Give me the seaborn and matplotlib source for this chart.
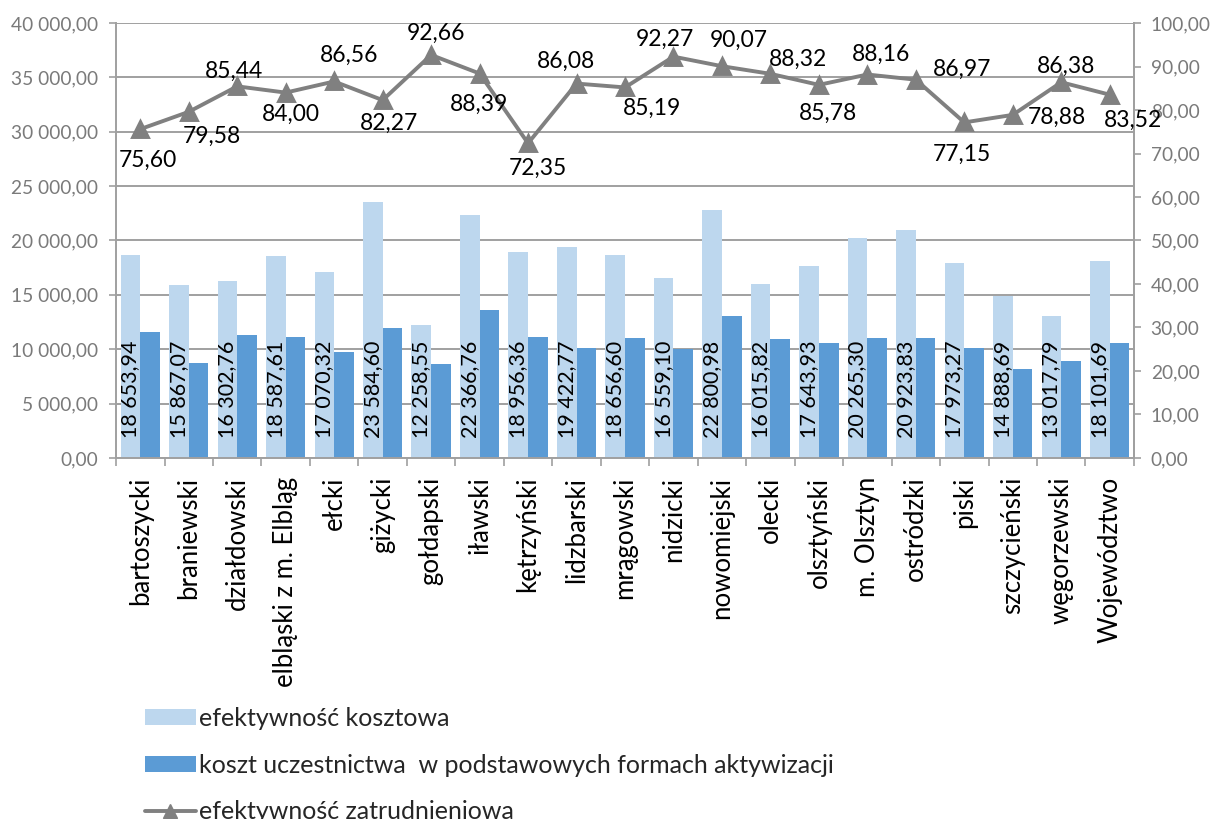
import numpy as np
import pandas as pd
import matplotlib
matplotlib.use('Agg')
import matplotlib.pyplot as plt
from matplotlib.patches import Patch
from matplotlib.lines import Line2D
from matplotlib.ticker import FuncFormatter, MultipleLocator
import seaborn as sns

# Data
powiaty = ['bartoszycki', 'braniewski', 'działdowski', 'elbląski z m. Elbląg', 'ełcki',
           'giżycki', 'gołdapski', 'iławski', 'kętrzyński', 'lidzbarski', 'mrągowski',
           'nidzicki', 'nowomiejski', 'olecki', 'olsztyński', 'm. Olsztyn', 'ostródzki',
           'piski', 'szczycieński', 'węgorzewski', 'Województwo']
efekt_kosztowa = [18653.94, 15867.07, 16302.76, 18587.61, 17070.32, 23584.60, 12258.55,
                  22366.76, 18956.36, 19422.77, 18656.60, 16559.10, 22800.98, 16015.82,
                  17643.93, 20265.30, 20923.83, 17973.27, 14888.69, 13017.79, 18101.69]
# not labelled in the chart
koszt_uczestnictwa = [11600, 8750, 11270, 11150, 9730, 11940, 8660, 13600, 11150, 10070,
                      10990, 9980, 13080, 10930, 10530, 10990, 11050, 10160, 8140, 8930, 10620]
efekt_zatrudn = [75.60, 79.58, 85.44, 84.00, 86.56, 82.27, 92.66, 88.39, 72.35, 86.08,
                 85.19, 92.27, 90.07, 88.32, 85.78, 88.16, 86.97, 77.15, 78.88, 86.38, 83.52]

seria1 = 'efektywność kosztowa'
seria2 = 'koszt uczestnictwa  w podstawowych formach aktywizacji'
seria3 = 'efektywność zatrudnieniowa'

# label offsets (pixels, image direction) for line labels
lab_off = [(8, 31), (23, 25), (-3, -15), (5, 22), (15, -26), (6, 23), (5, -22), (-1, 31),
           (10, 25), (-11, -22), (27, 21), (-9, -17), (17, -26), (28, -14), (9, 28),
           (14, -20), (46, -10), (-2, 32), (44, 2), (5, -16), (23, 26)]

bars = pd.DataFrame({
    'powiat': powiaty * 2,
    'wartosc': efekt_kosztowa + koszt_uczestnictwa,
    'seria': [seria1] * len(powiaty) + [seria2] * len(powiaty),
})

c_light = '#bdd7ee'
c_dark = '#5b9bd5'
c_line = '#808080'
c_axis = '#a0a0a0'
c_tick = '#7a7a7a'

sns.set_theme(style='white')
plt.rcParams['font.family'] = ['Lato', 'DejaVu Sans']


def pl_num(v, pos=None):
    return '{:,.2f}'.format(v).replace(',', ' ').replace('.', ',')


fig = plt.figure(figsize=(12.15, 8.19), dpi=100)
ax = fig.add_axes([0.0955, 0.4408, 0.8378, 0.5311])

sns.barplot(data=bars, x='powiat', y='wartosc', hue='seria', palette=[c_light, c_dark],
            width=0.81, gap=0, saturation=1, legend=False, ax=ax, linewidth=0)

# value labels inside light bars
for bar, v in zip(ax.containers[0], efekt_kosztowa):
    ax.annotate(pl_num(v), (bar.get_x() + bar.get_width() / 2, 0), xytext=(0, 20),
                textcoords='offset pixels', rotation=90, ha='center', va='bottom',
                fontsize=15.5, color='black')

ax.set_ylim(0, 40000)
ax.set_xlim(-0.5, len(powiaty) - 0.5)
ax.yaxis.set_major_locator(MultipleLocator(5000))
ax.yaxis.set_major_formatter(FuncFormatter(pl_num))
ax.grid(axis='y', color=c_axis, linewidth=1.4)
ax.grid(axis='x', visible=False)
ax.set_axisbelow(True)
ax.set_xlabel('')
ax.set_ylabel('')
ax.set_xticks(range(len(powiaty)))
ax.set_xticklabels(powiaty, rotation=90, fontsize=18.5, color='black')
ax.set_xticks(np.arange(-0.5, len(powiaty), 1), minor=True)
ax.tick_params(axis='x', which='major', length=0, pad=13.5)
ax.tick_params(axis='x', which='minor', bottom=True, length=6, width=1.2, color=c_axis)
ax.tick_params(axis='y', left=True, length=5, width=1.2, color=c_axis, labelsize=13.8,
               labelcolor=c_tick, pad=8)
for s in ['left', 'bottom', 'right']:
    ax.spines[s].set_color(c_axis)
    ax.spines[s].set_linewidth(1.4)
ax.spines['top'].set_visible(False)

# line on secondary axis
ax2 = ax.twinx()
sns.pointplot(x=powiaty, y=efekt_zatrudn, ax=ax2, color=c_line, markers='^',
              markersize=11, linewidth=2.8, errorbar=None)
ax2.set_ylim(0, 100)
ax2.set_xlim(-0.5, len(powiaty) - 0.5)
ax2.yaxis.set_major_locator(MultipleLocator(10))
ax2.yaxis.set_major_formatter(FuncFormatter(pl_num))
ax2.tick_params(axis='y', right=True, length=5, width=1.2, color=c_axis, labelsize=13.8,
                labelcolor=c_tick, pad=7)
ax2.grid(False)
for s in ['left', 'bottom', 'top']:
    ax2.spines[s].set_visible(False)
ax2.spines['right'].set_color(c_axis)
ax2.spines['right'].set_linewidth(1.4)
ax2.set_ylabel('')

for i, v in enumerate(efekt_zatrudn):
    dx, dy = lab_off[i]
    ax2.annotate(pl_num(v), (i, v), xytext=(dx, -dy), textcoords='offset pixels',
                 ha='center', va='center', fontsize=16.5, color='black')

handles = [Patch(facecolor=c_light, edgecolor='none'),
           Patch(facecolor=c_dark, edgecolor='none'),
           Line2D([], [], color=c_line, linewidth=2.8, marker='^', markersize=10)]
fig.legend(handles, [seria1, seria2, seria3], loc='upper left',
           bbox_to_anchor=(0.119, 0.137), frameon=False, fontsize=18,
           handlelength=2.05, handleheight=0.6, handletextpad=0.12,
           labelspacing=0.95, borderpad=0, borderaxespad=0)

fig.savefig('out.png', dpi=100)
